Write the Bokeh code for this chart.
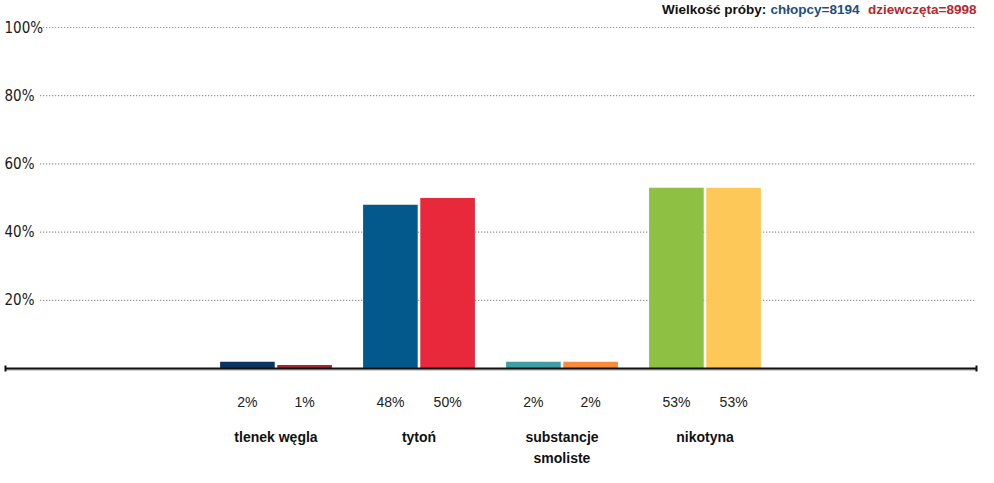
from bokeh.plotting import figure
from bokeh.models import Range1d, ColumnDataSource
from bokeh.core.properties import value
from bokeh.embed import file_html
from bokeh.resources import INLINE

categories = ["tlenek węgla", "tytoń", "substancje\nsmoliste", "nikotyna"]
boys = [2, 48, 2, 53]
girls = [1, 50, 2, 53]
boys_colors = ["#0d3461", "#03598c", "#3f9ea4", "#8dc043"]
girls_colors = ["#a7262c", "#e8283b", "#f98b3c", "#fdc858"]
y_ticks = [20, 40, 60, 80, 100]
y_tick_labels = ["20%", "40%", "60%", "80%", "100%"]
title_parts = ["Wielkość próby:", "chłopcy=8194", "dziewczęta=8998"]
title_colors = ["#111111", "#1e4f7d", "#b5282e"]

W, H = 978, 467
x0, x1 = 0.0734, 6.9126
y0, y1 = -29.03, 107.92
px = (x1 - x0) / W   # data units per pixel (x)
py = (y1 - y0) / H   # data units per pixel (y)

p = figure(width=W, height=H, output_backend="svg", toolbar_location=None,
           x_range=Range1d(x0, x1), y_range=Range1d(y0, y1),
           min_border=0, outline_line_color=None)
p.axis.visible = False
p.grid.visible = False

pos = [i + 2 for i in range(len(categories))]
off = 0.2
bw = 0.382

# dotted grid lines
p.segment(x0=[0.351] * len(y_ticks), x1=[x1 - 3 * px] * len(y_ticks), y0=y_ticks, y1=y_ticks,
          line_color="#7a7a7a", line_width=1.2, line_dash="1 2")
# y tick labels
p.text(x=[x0 + 4 * px] * len(y_ticks), y=y_ticks, text=y_tick_labels, text_align="left",
       text_baseline="middle", text_font=value("DejaVu Sans Condensed"), text_font_size="15px",
       text_color="#1a1a1a")

# bars
src = ColumnDataSource(dict(
    xb=[q - off for q in pos], xg=[q + off for q in pos],
    boys=boys, girls=girls, cb=boys_colors, cg=girls_colors,
    lb=[f"{v}%" for v in boys], lg=[f"{v}%" for v in girls],
    cat=categories, pos=pos))
p.vbar(x="xb", top="boys", bottom=0, width=bw, fill_color="cb", line_color=None, source=src)
p.vbar(x="xg", top="girls", bottom=0, width=bw, fill_color="cg", line_color=None, source=src)

# baseline axis
xa, xb_ = x0 + 5 * px, x0 + 976 * px
p.segment(x0=[xa], x1=[xb_], y0=[-1.5 * py], y1=[-1.5 * py], line_color="#d0d0d0", line_width=2)
p.segment(x0=[xa], x1=[xb_], y0=[0], y1=[0], line_color="#111111", line_width=2)
p.segment(x0=[xa, xb_], x1=[xa, xb_], y0=[-3 * py, -3 * py], y1=[3 * py, 3 * py],
          line_color="#111111", line_width=2)

# value labels
p.text(x="xb", y=-9.68, text="lb", source=src, text_align="center", text_baseline="middle",
       text_font=value("Liberation Sans"), text_font_size="14px", text_color="#222222")
p.text(x="xg", y=-9.68, text="lg", source=src, text_align="center", text_baseline="middle",
       text_font=value("Liberation Sans"), text_font_size="14px", text_color="#222222")
# category labels
p.text(x="pos", y=-17.6, text="cat", source=src, text_align="center", text_baseline="top",
       text_font=value("Liberation Sans"), text_font_size="14px", text_font_style="bold",
       text_color="#111111", text_line_height=1.36)

# sample size header
tx = [765.7, 859, 976]
p.text(x=[x0 + t * px for t in tx], y=[y1 - 9 * py] * 3, text=title_parts,
       text_color=title_colors, text_align="right", text_baseline="middle",
       text_font=value("Liberation Sans"), text_font_size="13.5px", text_font_style="bold")

open("out.html", "w").write(file_html(p, INLINE))
